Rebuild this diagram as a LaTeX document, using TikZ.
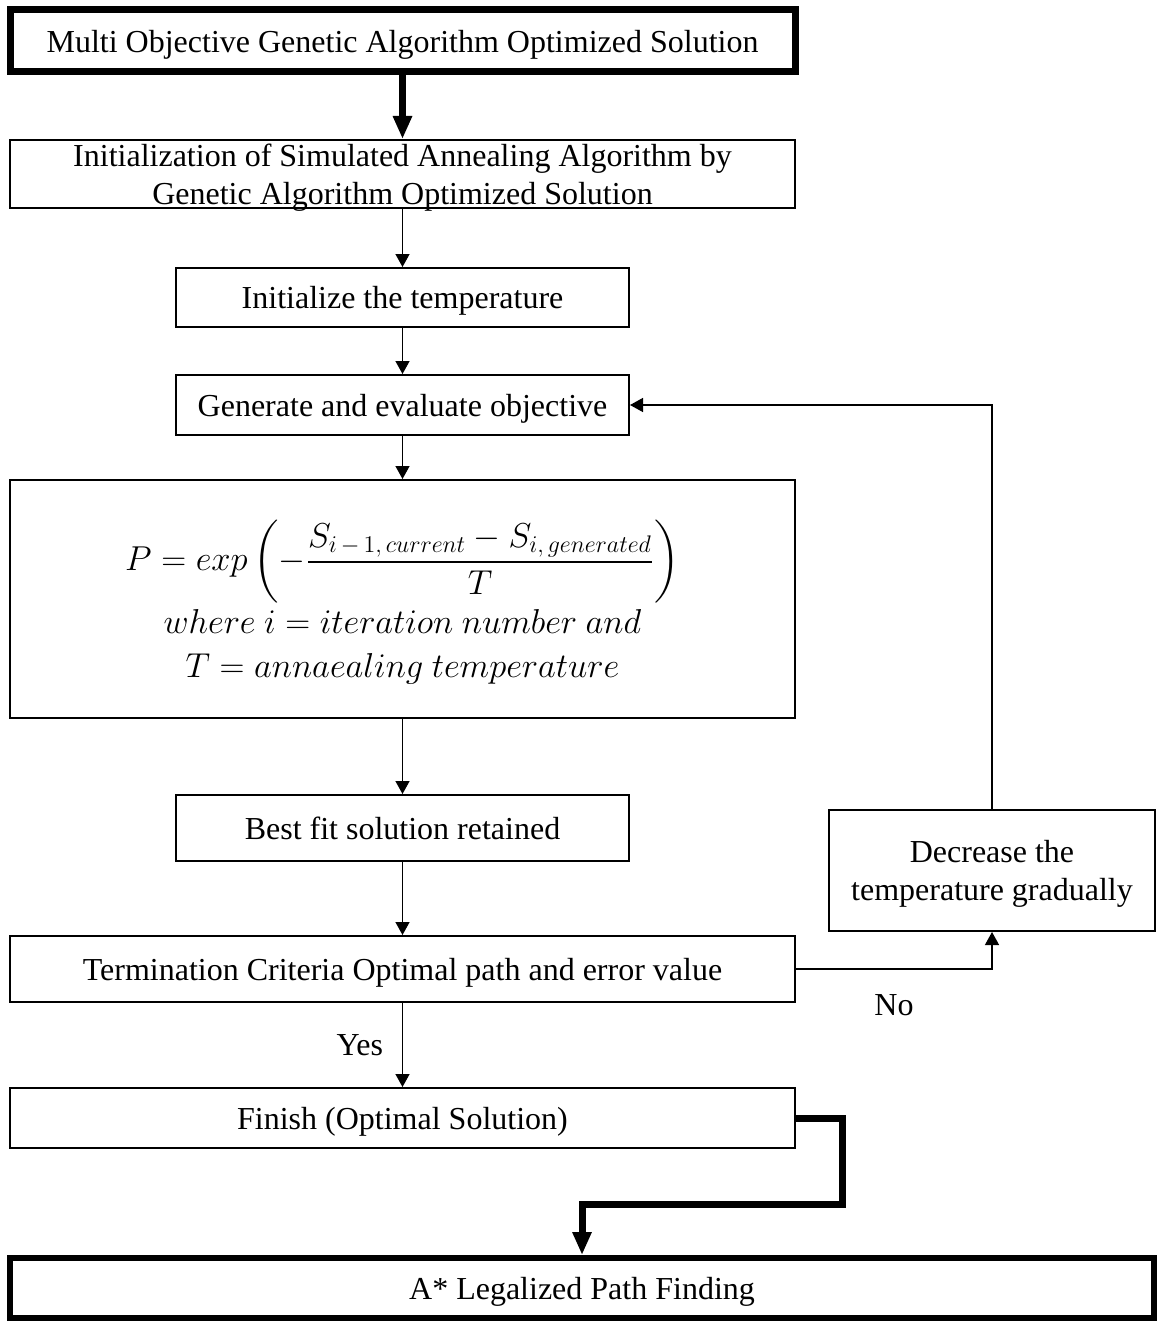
\documentclass[tikz,border=0pt]{standalone}
\usepackage{amsmath}
\usepackage{fontspec}
\setmainfont{Liberation Serif}
\usetikzlibrary{arrows.meta}
\begin{document}
\begin{tikzpicture}[x=0.5pt,y=-0.5pt,
  font=\fontsize{16}{19}\selectfont,
  box/.style={draw,line width=1pt,rectangle,align=center,inner sep=0pt,text depth=0pt},
  heavybox/.style={box,line width=3.5pt},
  wide/.style={minimum width=392.5pt},
  narrow/.style={minimum width=226.5pt},
  arr/.style={line width=0.7pt,-{Triangle[length=6.5pt,width=7pt]}},
  heavyarr/.style={line width=3.5pt,-{Triangle[length=11.5pt,width=9pt]}}]
\useasboundingbox (0,0) rectangle (1157,1321);

% main column of process steps
\node[heavybox,wide,minimum height=31pt] (b1) at (402.5,41)
  {Multi Objective Genetic Algorithm Optimized Solution};
\node[box,wide,minimum height=34pt] (b2) at (402.5,174)
  {Initialization of Simulated Annealing Algorithm by\\Genetic Algorithm Optimized Solution};
\node[box,narrow,minimum height=29.5pt] (b3) at (402.5,297.5)
  {Initialize the temperature};
\node[box,narrow,minimum height=30pt] (b4) at (402.5,405)
  {Generate and evaluate objective};
\node[box,wide,minimum height=119pt,font=\fontsize{17}{20}\selectfont] (b5) at (402.5,599)
  {$P = exp\left(-\dfrac{S_{i\,-\,1,\,current} - S_{i,\,generated}}{T}\right)$\\[2pt]
   $where\ i = iteration\ number\ and$\\[2pt]
   $T = annaealing\ temperature$};
\node[box,narrow,minimum height=33pt] (b6) at (402.5,828)
  {Best fit solution retained};
\node[box,wide,minimum height=33pt] (b7) at (402.5,969)
  {Termination Criteria Optimal path and error value};
\node[box,wide,minimum height=30pt] (b8) at (402.5,1118)
  {Finish (Optimal Solution)};
\node[heavybox,line width=3pt,minimum width=572pt,minimum height=30pt] (b9) at (582,1288)
  {A* Legalized Path Finding};

% cooling step on the right
\node[box,minimum width=163pt,minimum height=60.5pt] (dec) at (992,870.5)
  {Decrease the\\temperature gradually};

% connectors
\draw[heavyarr] (b1.south) -- (b2.north);
\draw[arr] (b2.south) -- (b3.north);
\draw[arr] (b3.south) -- (b4.north);
\draw[arr] (b4.south) -- (b5.north);
\draw[arr] (b5.south) -- (b6.north);
\draw[arr] (b6.south) -- (b7.north);
\draw[arr] (b7.south) -- node[left=6pt] {Yes} (b8.north);
\draw[arr] (b7.east) -| node[pos=0.25,yshift=-18pt] {No} (dec.south);
\draw[arr] (dec.north) |- (b4.east);
\coordinate (bend) at (842,1204);
\draw[heavyarr] (b8.east) -| (bend) -| (b9.north);
\end{tikzpicture}
\end{document}
